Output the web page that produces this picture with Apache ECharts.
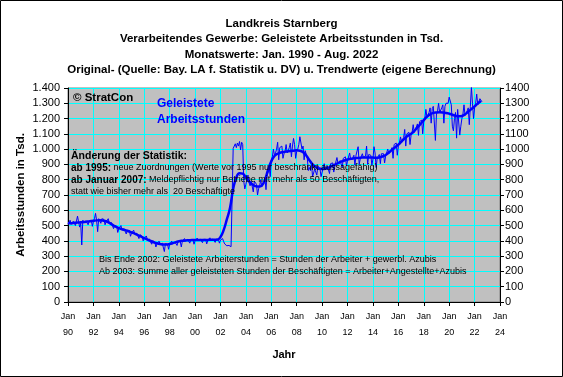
<!DOCTYPE html>
<html>
<head>
<meta charset="utf-8">
<script src="https://cdn.jsdelivr.net/npm/echarts@6/dist/echarts.min.js"></script>
<style>
  html, body { margin: 0; padding: 0; background: #fff; }
  #chart { width: 563px; height: 377px; }
</style>
</head>
<body>
<div id="chart"></div>
<script>
// Monatswerte (Original), Jan. 1990 - Aug. 2022, in Tsd. Stunden
const startYear = 1990
const original = [
  [512, 520, 535, 508, 515, 528, 540, 500, 530, 562, 525, 490], // 1990
  [515, 373, 535, 520, 518, 530, 538, 505, 532, 540, 535, 495], // 1991
  [528, 545, 580, 535, 460, 545, 550, 515, 545, 548, 540, 505], // 1992
  [525, 530, 545, 515, 510, 520, 510, 480, 500, 505, 495, 455], // 1993
  [480, 485, 500, 470, 472, 480, 478, 445, 470, 472, 468, 430], // 1994
  [450, 458, 470, 445, 440, 450, 445, 415, 440, 435, 430, 400], // 1995
  [418, 420, 432, 408, 405, 412, 405, 378, 400, 398, 392, 360], // 1996
  [380, 385, 398, 375, 378, 385, 388, 330, 382, 380, 378, 345], // 1997
  [378, 385, 398, 380, 385, 392, 398, 370, 395, 400, 398, 360], // 1998
  [398, 402, 415, 398, 400, 410, 412, 385, 408, 410, 408, 378], // 1999
  [400, 405, 418, 402, 403, 410, 412, 388, 410, 412, 410, 380], // 2000
  [402, 408, 420, 405, 405, 412, 415, 390, 412, 414, 410, 385], // 2001
  [405, 410, 415, 395, 380, 372, 368, 358, 370, 365, 362, 352], // 2002
  [1005, 1000, 1035, 1010, 1040, 1020, 1050, 995, 1045, 1030, 790, 740], // 2003
  [770, 800, 830, 780, 760, 790, 800, 720, 790, 780, 770, 700], // 2004
  [740, 760, 800, 755, 765, 785, 805, 735, 830, 850, 880, 820], // 2005
  [930, 950, 1000, 960, 975, 1000, 1045, 930, 1010, 1000, 1020, 940], // 2006
  [970, 985, 1030, 975, 990, 1010, 1040, 950, 1020, 1070, 1030, 940], // 2007
  [985, 1000, 1030, 1081, 1070, 1000, 1020, 930, 990, 980, 940, 860], // 2008
  [880, 860, 900, 820, 809, 870, 880, 830, 890, 880, 870, 820], // 2009
  [850, 860, 905, 870, 860, 890, 900, 840, 905, 900, 910, 850], // 2010
  [890, 900, 945, 905, 910, 925, 935, 880, 940, 945, 950, 890], // 2011
  [925, 930, 975, 930, 935, 945, 960, 895, 960, 965, 1016, 900], // 2012
  [935, 940, 970, 945, 940, 955, 1020, 900, 965, 970, 960, 896], // 2013
  [935, 1016, 975, 880, 940, 950, 965, 905, 970, 975, 970, 910], // 2014
  [955, 965, 1000, 970, 975, 990, 1010, 940, 1030, 1030, 1040, 960], // 2015
  [1020, 1040, 1080, 1050, 1055, 1075, 1129, 1020, 1100, 1100, 1110, 1030], // 2016
  [1090, 1110, 1160, 1110, 1115, 1145, 1165, 1090, 1180, 1175, 1190, 1100], // 2017
  [1180, 1200, 1260, 1210, 1220, 1240, 1270, 1170, 1265, 1280, 1290, 1057], // 2018
  [1230, 1250, 1300, 1240, 1235, 1270, 1290, 1170, 1280, 1300, 1290, 1300], // 2019
  [1340, 1330, 1290, 1150, 1120, 1200, 1240, 1072, 1260, 1270, 1092, 1150], // 2020
  [1200, 1230, 1290, 1220, 1210, 1250, 1270, 1160, 1280, 1406, 1300, 1200], // 2021
  [1270, 1300, 1360, 1290, 1300, 1330, 1335, 1310] // 2022
]

// Trendwerte, quartalsweise (Jan, Apr, Jul, Okt)
const trend = [
  [515, 515, 518, 520],    // 1990
  [521, 523, 526, 529],    // 1991
  [531, 534, 535, 533],    // 1992
  [528, 518, 505, 493],    // 1993
  [484, 476, 470, 463],    // 1994
  [455, 447, 438, 428],    // 1995
  [418, 408, 399, 391],    // 1996
  [384, 379, 376, 376],    // 1997
  [379, 385, 392, 398],    // 1998
  [401, 403, 404, 405],    // 1999
  [405, 405, 406, 406],    // 2000
  [406, 407, 407, 408],    // 2001
  [425, 470, 540, 615],    // 2002
  [740, 815, 843, 840],    // 2003
  [815, 790, 770, 758],    // 2004
  [755, 762, 800, 865],    // 2005
  [920, 955, 970, 978],    // 2006
  [982, 985, 988, 990],    // 2007
  [992, 990, 980, 958],    // 2008
  [928, 900, 882, 873],    // 2009
  [870, 872, 879, 889],    // 2010
  [898, 908, 918, 926],    // 2011
  [932, 937, 940, 942],    // 2012
  [944, 945, 946, 946],    // 2013
  [945, 944, 946, 952],    // 2014
  [962, 978, 995, 1012],   // 2015
  [1030, 1050, 1070, 1087], // 2016
  [1100, 1118, 1142, 1165], // 2017
  [1190, 1212, 1228, 1237], // 2018
  [1240, 1241, 1240, 1237], // 2019
  [1232, 1225, 1218, 1215], // 2020
  [1217, 1228, 1245, 1262], // 2021
  [1280, 1298, 1315]        // 2022
]

const titleLines = [
  'Landkreis Starnberg',
  'Verarbeitendes Gewerbe: Geleistete Arbeitsstunden in Tsd.',
  'Monatswerte: Jan. 1990 - Aug. 2022',
  'Original- (Quelle: Bay. LA f. Statistik u. DV) u. Trendwerte (eigene Berechnung)'
]

const FONT = '"Liberation Sans", Arial, sans-serif'

const originalData = []
original.forEach((row, y) => {
  row.forEach((v, m) => originalData.push([startYear + y + m / 12, v]))
})
const trendData = []
trend.forEach((row, y) => {
  row.forEach((v, q) => trendData.push([startYear + y + q / 4, v]))
})

function dotted(v) {
  if (v < 1000) return String(v)
  return Math.floor(v / 1000) + '.' + String(v % 1000).padStart(3, '0')
}

const chart = echarts.init(document.getElementById('chart'), null, { renderer: 'canvas' })

chart.setOption({
  animation: false,
  backgroundColor: '#fff',
  textStyle: { fontFamily: FONT },
  title: {
    text: titleLines.join('\n'),
    left: 'center',
    top: 11,
    textStyle: {
      fontFamily: FONT,
      fontSize: 11.5,
      fontWeight: 'bold',
      color: '#000',
      lineHeight: 15.5
    }
  },
  grid: {
    left: 68,
    right: 63,
    top: 88,
    bottom: 75,
    show: true,
    backgroundColor: '#c0c0c0',
    borderColor: '#808080',
    borderWidth: 1,
    outerBoundsMode: 'none'
  },
  xAxis: {
    type: 'value',
    min: 1990,
    max: 2024,
    interval: 2,
    name: 'Jahr',
    nameLocation: 'middle',
    nameGap: 47,
    nameMoveOverlap: false,
    nameTextStyle: { fontFamily: FONT, fontSize: 11, fontWeight: 'bold', color: '#000' },
    axisLine: { show: true, lineStyle: { color: '#000', width: 1 } },
    axisTick: { show: true, length: 4, lineStyle: { color: '#000' } },
    axisLabel: {
      margin: 7,
      fontFamily: FONT,
      fontSize: 9,
      color: '#000',
      lineHeight: 16,
      formatter: v => 'Jan\n' + String(v % 100).padStart(2, '0')
    },
    splitLine: { show: true, lineStyle: { color: '#00ffff', width: 1 } }
  },
  yAxis: [{
    type: 'value',
    min: 0,
    max: 1400,
    interval: 100,
    name: 'Arbeitsstunden in Tsd.',
    nameLocation: 'middle',
    nameGap: 41,
    nameMoveOverlap: false,
    nameTextStyle: { fontFamily: FONT, fontSize: 11.5, fontWeight: 'bold', color: '#000' },
    axisLine: { show: true, lineStyle: { color: '#000', width: 1 } },
    axisTick: { show: true, length: 4, lineStyle: { color: '#000' } },
    axisLabel: { margin: 8, fontFamily: FONT, fontSize: 11, color: '#000', formatter: dotted },
    splitLine: { show: true, lineStyle: { color: '#00ffff', width: 1 } }
  }, {
    type: 'value',
    position: 'right',
    min: 0,
    max: 1400,
    interval: 100,
    axisLine: { show: true, lineStyle: { color: '#000', width: 1 } },
    axisTick: { show: true, length: 4, lineStyle: { color: '#000' } },
    axisLabel: { margin: 5, fontFamily: FONT, fontSize: 11, color: '#000', formatter: v => String(v) },
    splitLine: { show: false }
  }],
  series: [{
    name: 'Original',
    type: 'line',
    data: originalData,
    showSymbol: false,
    lineStyle: { color: '#0000ff', width: 1 },
    z: 2
  }, {
    name: 'Trend',
    type: 'line',
    data: trendData,
    smooth: true,
    showSymbol: false,
    lineStyle: { color: '#0000ff', width: 2.5 },
    z: 3
  }],
  graphic: [
    { type: 'rect', shape: { x: 0.5, y: 0.5, width: 562, height: 376 },
      style: { fill: 'none', stroke: '#000', lineWidth: 1 }, z: 100 },
    { type: 'text', x: 73, y: 98, z: 100,
      style: { text: '© StratCon', font: 'bold 11.5px ' + FONT, fill: '#000', verticalAlign: 'middle' } },
    { type: 'text', x: 157, y: 104, z: 100,
      style: { text: 'Geleistete', font: 'bold 12px ' + FONT, fill: '#0000ff', verticalAlign: 'middle' } },
    { type: 'text', x: 157, y: 120, z: 100,
      style: { text: 'Arbeitsstunden', font: 'bold 12px ' + FONT, fill: '#0000ff', verticalAlign: 'middle' } },
    { type: 'text', x: 71, y: 156, z: 100,
      style: { text: 'Änderung der Statistik:', font: 'bold 10.5px ' + FONT, fill: '#000', verticalAlign: 'middle' } },
    { type: 'text', x: 71, y: 168, z: 100,
      style: {
        text: '{b|ab 1995:}{n| neue Zuordnungen (Werte vor 1995 nur beschränkt aussagefähig)}',
        verticalAlign: 'middle',
        rich: {
          b: { font: 'bold 10px ' + FONT, fill: '#000' },
          n: { font: '9px ' + FONT, fill: '#000' }
        }
      } },
    { type: 'text', x: 71, y: 180, z: 100,
      style: {
        text: '{b|ab Januar 2007:}{n| Meldepflichtig nur Betriebe mit mehr als 50 Beschäftigten,}',
        verticalAlign: 'middle',
        rich: {
          b: { font: 'bold 10px ' + FONT, fill: '#000' },
          n: { font: '9px ' + FONT, fill: '#000' }
        }
      } },
    { type: 'text', x: 71, y: 192, z: 100,
      style: { text: 'statt wie bisher mehr als  20 Beschäftigte', font: '9px ' + FONT, fill: '#000', verticalAlign: 'middle' } },
    { type: 'text', x: 99, y: 260, z: 100,
      style: { text: 'Bis Ende 2002: Geleistete Arbeiterstunden = Stunden der Arbeiter + gewerbl. Azubis', font: '9px ' + FONT, fill: '#000', verticalAlign: 'middle' } },
    { type: 'text', x: 99, y: 272, z: 100,
      style: { text: 'Ab 2003: Summe aller geleisteten Stunden der Beschäftigten = Arbeiter+Angestellte+Azubis', font: '9px ' + FONT, fill: '#000', verticalAlign: 'middle' } }
  ]
})
</script>
</body>
</html>
